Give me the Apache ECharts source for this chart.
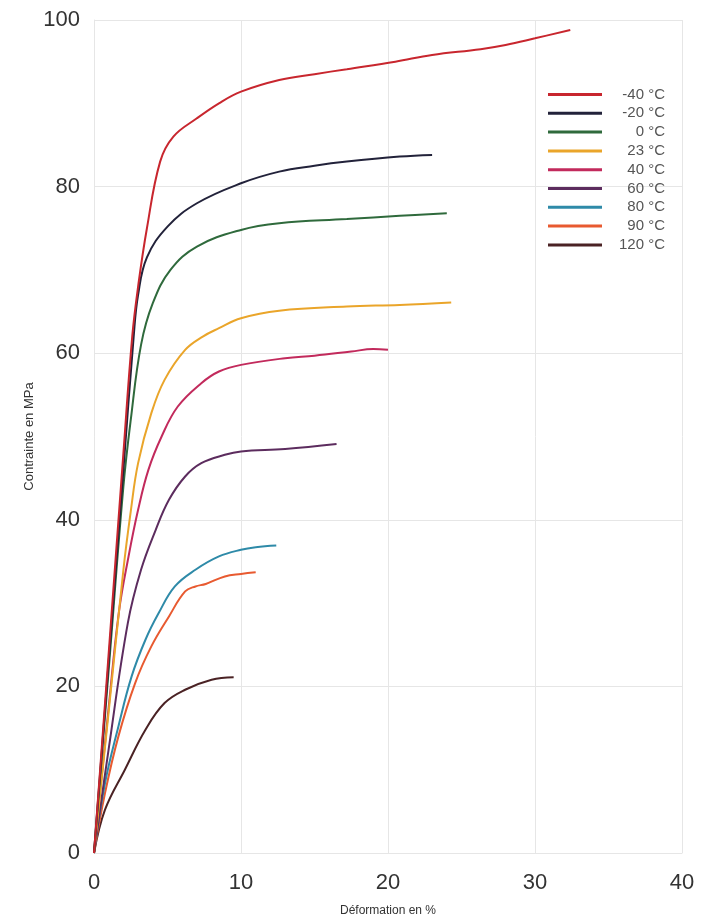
<!DOCTYPE html>
<html>
<head>
<meta charset="utf-8">
<script src="https://cdn.jsdelivr.net/npm/echarts@6/dist/echarts.min.js"></script>
<style>
html,body{margin:0;padding:0;background:#fff;}
#chart{width:709px;height:919px;}
</style>
</head>
<body>
<div id="chart"></div>
<script>
// Strain (%) / stress (MPa) pairs
const seriesNames = ['-40 °C', '-20 °C', '0 °C', '23 °C', '40 °C', '60 °C', '80 °C', '90 °C', '120 °C'];
const seriesColors = ['#c8262e', '#22223a', '#2f6a3c', '#eaa52a', '#c22a5c', '#5c2c5e', '#2e8aa8', '#e85a30', '#4a2224'];

const curveM40 = [[0,0],[1,24],[2,48],[2.6,62],[3.0,68],[3.6,75],[4.5,83],[5.4,86],[7,88.2],[8.5,90],[10,91.4],[12.6,92.8],[15,93.5],[17.2,94.1],[20.5,95],[23,95.8],[26.3,96.5],[28,97],[30,97.8],[32.4,98.8]];
const curveM20 = [[0,0],[1,23],[2,46],[2.7,62],[3.0,67],[3.6,71.5],[5,75.2],[7,78],[10,80.4],[12.6,81.8],[15,82.5],[17.2,83],[20.8,83.6],[23,83.8]];
const curve0 = [[0,0],[1,22],[2,44],[2.5,52],[3.2,61],[4,66],[5.2,70],[7,72.8],[10,74.8],[12.6,75.6],[17.2,76.1],[20.8,76.5],[24,76.8]];
const curve23 = [[0,0],[1,17],[2,34],[2.5,41],[3,46.8],[3.9,52.8],[4.8,56.8],[6.2,60.4],[7.4,62],[8.5,63],[10,64.2],[12.6,65.1],[17.2,65.6],[20.8,65.8],[24.3,66.1]];
const curve40 = [[0,0],[1,17.5],[1.7,29],[2.35,35.6],[3,41.2],[3.7,46],[4.6,50],[5.7,53.6],[7.3,56.4],[8.5,57.8],[10,58.6],[13,59.4],[15,59.7],[17.5,60.2],[19,60.5],[20,60.4]];
const curve60 = [[0,0],[1,12.5],[2.3,27.6],[3.2,34],[4.2,38.8],[5.1,42.4],[6.2,45.2],[7.3,46.8],[8.9,47.8],[10,48.2],[13,48.5],[16.5,49.1]];
const curve80 = [[0,0],[0.75,8.4],[1.66,15.2],[2.56,21.2],[3.5,25.6],[4.4,28.8],[5.5,32],[6.9,34],[8.5,35.6],[10,36.4],[11,36.7],[12.4,36.9]];
const curve90 = [[0,0],[0.75,7.2],[1.66,14],[2.8,20.4],[3.9,24.8],[5.1,28.4],[6.2,31.4],[6.9,32],[7.6,32.3],[8.9,33.2],[10,33.5],[11,33.7]];
const curve120 = [[0,0],[0.75,5.2],[2.1,10],[3.5,14.8],[4.8,18],[6.2,19.6],[8,20.8],[9.5,21.1]];

const curves = [curveM40, curveM20, curve0, curve23, curve40, curve60, curve80, curve90, curve120];

const xTicks = [0, 10, 20, 30, 40];
const yTicks = [0, 20, 40, 60, 80, 100];

const chart = echarts.init(document.getElementById('chart'));
const gridColor = '#e6e6e6';
const fontFam = 'Liberation Sans, Arial, sans-serif';

chart.setOption({
  animation: false,
  backgroundColor: '#ffffff',
  grid: { left: 94, right: 27, top: 20, bottom: 66, containLabel: false, outerBoundsMode: 'none' },
  legend: {
    orient: 'vertical',
    left: 548,
    top: 87,
    padding: 0,
    icon: 'rect',
    itemWidth: 54,
    itemHeight: 3,
    itemGap: 3.8,
    data: seriesNames,
    textStyle: {
      fontFamily: fontFam,
      fontSize: 15,
      color: '#555',
      rich: { t: { width: 58, align: 'right', fontSize: 15, fontFamily: fontFam, color: '#555', lineHeight: 15 } }
    },
    formatter: function (n) { return '{t|' + n + '}'; }
  },
  xAxis: {
    type: 'value',
    min: 0, max: 40, interval: 10,
    name: 'Déformation en %',
    nameLocation: 'middle',
    nameGap: 52,
    nameMoveOverlap: false,
    nameTextStyle: { fontFamily: fontFam, fontSize: 12, color: '#333' },
    axisLine: { show: true, lineStyle: { color: gridColor } },
    axisTick: { show: false },
    axisLabel: {
      margin: 19,
      fontFamily: fontFam,
      fontSize: 22, color: '#333',
      formatter: function (v) { return xTicks.indexOf(v) >= 0 ? String(v) : ''; }
    },
    splitLine: { show: true, lineStyle: { color: gridColor, width: 1 } }
  },
  yAxis: {
    type: 'value',
    min: 0, max: 100, interval: 20,
    name: 'Contrainte en MPa',
    nameLocation: 'middle',
    nameGap: 58,
    nameMoveOverlap: false,
    nameTextStyle: { fontFamily: fontFam, fontSize: 13, color: '#333' },
    axisLine: { show: true, lineStyle: { color: gridColor } },
    axisTick: { show: false },
    axisLabel: {
      margin: 14,
      fontFamily: fontFam,
      fontSize: 22, color: '#333',
      formatter: function (v) { return yTicks.indexOf(v) >= 0 ? String(v) : ''; }
    },
    splitLine: { show: true, lineStyle: { color: gridColor, width: 1 } }
  },
  series: seriesNames.map(function (n, i) {
    return {
      name: n,
      type: 'line',
      data: curves[i],
      smooth: 0.4,
      showSymbol: false,
      symbol: 'none',
      color: seriesColors[i],
      lineStyle: { width: 2, color: seriesColors[i] },
      z: 10 - i
    };
  })
});
</script>
</body>
</html>
